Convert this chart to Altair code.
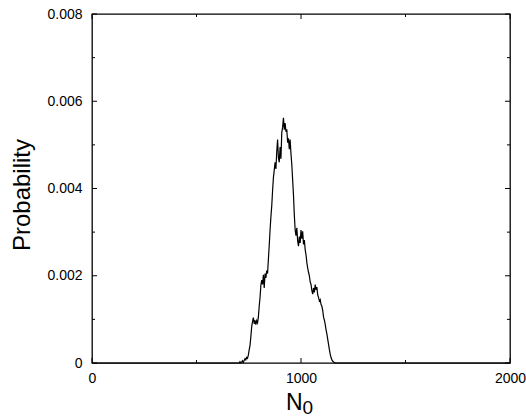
import altair as alt
import pandas as pd

# N0 values (x) and probabilities (y)
n0 = [0, 700, 704, 708, 712, 716, 720, 724, 728, 732, 736, 740, 744, 748, 752, 756, 760,
      764, 768, 772, 776, 780, 784, 788, 792, 796, 800, 804, 808, 812, 816, 820, 824,
      828, 832, 836, 840, 844, 848, 852, 856, 860, 864, 868, 872, 876, 880, 884, 888,
      892, 896, 900, 904, 908, 912, 916, 920, 924, 928, 932, 936, 940, 944, 948, 952,
      956, 960, 964, 968, 972, 976, 980, 984, 988, 992, 996, 1000, 1004, 1008, 1012,
      1016, 1020, 1024, 1028, 1032, 1036, 1040, 1044, 1048, 1052, 1056, 1060, 1064,
      1068, 1072, 1076, 1080, 1084, 1088, 1092, 1096, 1100, 1104, 1108, 1112, 1116,
      1120, 1124, 1128, 1132, 1136, 1140, 1144, 1148, 1152, 1156, 1160, 1164, 1168, 2000]
prob = [0, 0, 0, 0.00003, 0, 0.00002, 0.00005, 0.00001, 0.00006, 0.00010, 0.00007,
        0.00013, 0.00011, 0.00018, 0.00030, 0.00040, 0.00060, 0.00083, 0.00095, 0.00104,
        0.00090, 0.00098, 0.00088, 0.00097, 0.00092, 0.00105, 0.00130, 0.00150, 0.00178,
        0.00190, 0.00180, 0.00202, 0.00172, 0.00205, 0.00195, 0.00212, 0.00205, 0.00238,
        0.00270, 0.00305, 0.00335, 0.00360, 0.00395, 0.00425, 0.00442, 0.00460, 0.00445,
        0.00485, 0.00512, 0.00470, 0.00460, 0.00495, 0.00468, 0.00528, 0.00540, 0.00562,
        0.00535, 0.00550, 0.00530, 0.00536, 0.00505, 0.00515, 0.00490, 0.00512, 0.00480,
        0.00455, 0.00420, 0.00385, 0.00340, 0.00305, 0.00292, 0.00310, 0.00280, 0.00268,
        0.00290, 0.00275, 0.00305, 0.00285, 0.00302, 0.00272, 0.00282, 0.00260, 0.00248,
        0.00230, 0.00218, 0.00208, 0.00200, 0.00186, 0.00180, 0.00166, 0.00158, 0.00172,
        0.00162, 0.00180, 0.00168, 0.00174, 0.00156, 0.00150, 0.00142, 0.00145, 0.00134,
        0.00130, 0.00120, 0.00105, 0.00098, 0.00088, 0.00076, 0.00066, 0.00054, 0.00042,
        0.00030, 0.00020, 0.00012, 0.00007, 0.00004, 0.00002, 0.00001, 0, 0, 0]

x_major = [0, 1000, 2000]
x_minor = [500, 1500]
y_major = [0, 0.002, 0.004, 0.006, 0.008]
y_minor = [0.001, 0.003, 0.005, 0.007]

x_title = "N"
x_title_sub = "0"
y_title = "Probability"

W, H = 418, 349
FONT = "Liberation Sans"

df = pd.DataFrame({"N0": n0, "p": prob})
xs = alt.Scale(domain=[0, 2000], nice=False, zero=False)
ys = alt.Scale(domain=[0, 0.008], nice=False)

x_axis = alt.Axis(
    values=x_major, ticks=False, domain=False, grid=False, title=None,
    labelFont=FONT, labelFontSize=14, labelColor="black", labelPadding=8,
    labelFlush=False, labelOverlap=False, format="d")
y_axis = alt.Axis(
    values=y_major, ticks=False, domain=False, grid=False, title=None,
    labelFont=FONT, labelFontSize=14, labelColor="black", labelPadding=10,
    labelFlush=False, labelOverlap=False,
    labelExpr="datum.value == 0 ? '0' : format(datum.value, '.3f')")

line = alt.Chart(df).mark_line(color="black", strokeWidth=1.2, interpolate="linear").encode(
    x=alt.X("N0:Q", scale=xs, axis=x_axis),
    y=alt.Y("p:Q", scale=ys, axis=y_axis),
)

layers = [line]


def xticks(vals, length):
    d = pd.DataFrame({"v": vals})
    bot = alt.Chart(d).mark_rule(color="black", strokeWidth=1).encode(
        x=alt.X("v:Q", scale=xs, axis=x_axis), y=alt.value(H), y2=alt.value(H - length))
    top = alt.Chart(d).mark_rule(color="black", strokeWidth=1).encode(
        x=alt.X("v:Q", scale=xs, axis=x_axis), y=alt.value(0), y2=alt.value(length))
    return [bot, top]


def yticks(vals, length):
    d = pd.DataFrame({"v": vals})
    left = alt.Chart(d).mark_rule(color="black", strokeWidth=1).encode(
        y=alt.Y("v:Q", scale=ys, axis=y_axis), x=alt.value(0), x2=alt.value(length))
    right = alt.Chart(d).mark_rule(color="black", strokeWidth=1).encode(
        y=alt.Y("v:Q", scale=ys, axis=y_axis), x=alt.value(W), x2=alt.value(W - length))
    return [left, right]


layers += xticks(x_major, 5) + xticks(x_minor, 3)
layers += yticks(y_major, 5) + yticks(y_minor, 3)

tdf = pd.DataFrame({"a": [0]})
n_txt = alt.Chart(tdf).mark_text(text=x_title, font=FONT, fontSize=23, align="right",
                                 baseline="alphabetic", color="black").encode(
    x=alt.value(210.5), y=alt.value(396))
sub_txt = alt.Chart(tdf).mark_text(text=x_title_sub, font=FONT, fontSize=19, align="left",
                                   baseline="alphabetic", color="black").encode(
    x=alt.value(210.5), y=alt.value(399.5))
y_txt = alt.Chart(tdf).mark_text(text=y_title, font=FONT, fontSize=24, align="center",
                                 baseline="alphabetic", angle=270, color="black").encode(
    x=alt.value(-62), y=alt.value(181))
layers += [n_txt, sub_txt, y_txt]

chart = alt.layer(*layers).properties(
    width=W, height=H,
    background="white",
    autosize=alt.AutoSizeParams(type="none"),
    padding={"left": 92, "top": 14, "right": 16, "bottom": 57},
).configure_view(stroke="black", strokeWidth=1.3)

chart.save("out.html", embed_options={"renderer": "svg", "actions": False})
